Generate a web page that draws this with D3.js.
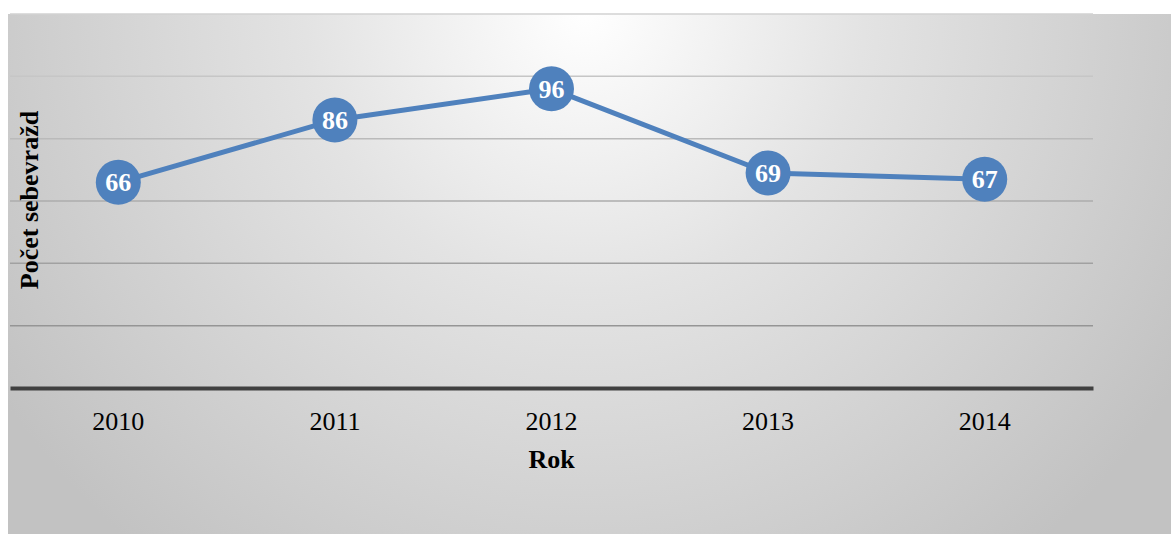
<!DOCTYPE html>
<html>
<head>
<meta charset="utf-8">
<script src="https://cdn.jsdelivr.net/npm/d3@7"></script>
<style>
  html, body { margin: 0; padding: 0; background: #ffffff; }
  svg { display: block; }
</style>
</head>
<body>
<svg id="chart" width="1171" height="534"></svg>
<script>
// Počet sebevražd podle roku
const years = ["2010", "2011", "2012", "2013", "2014"];
const suicides = [66, 86, 96, 69, 67];
const yTicks = [0, 20, 40, 60, 80, 100, 120];

const svg = d3.select("#chart");
const W = 1171, H = 534;
const plot = { left: 10, right: 1093, top: 14, bottom: 388 };
const serif = "'Liberation Serif', 'Times New Roman', serif";

// background: soft radial gradient, lightest at the top centre
const defs = svg.append("defs");
const grad = defs.append("radialGradient")
  .attr("id", "bg")
  .attr("gradientUnits", "userSpaceOnUse")
  .attr("cx", 585).attr("cy", 10).attr("r", 700)
  .attr("fx", 585).attr("fy", 10);
grad.append("stop").attr("offset", "0%").attr("stop-color", "#ffffff");
grad.append("stop").attr("offset", "40%").attr("stop-color", "#e3e3e3");
grad.append("stop").attr("offset", "100%").attr("stop-color", "#c2c2c2");

svg.append("rect")
  .attr("x", 8).attr("y", 14)
  .attr("width", W - 8).attr("height", H - 14)
  .attr("fill", "url(#bg)");

const x = d3.scaleBand().domain(years).range([plot.left, plot.right]);
const y = d3.scaleLinear().domain([0, 120]).range([plot.bottom, plot.top]);

// horizontal gridlines
const gridColor = d3.scaleLinear().domain([120, 20]).range(["#d2d2d2", "#959595"]);
svg.append("g")
  .selectAll("line")
  .data(yTicks.filter(t => t > 0))
  .join("line")
  .attr("x1", plot.left).attr("x2", plot.right)
  .attr("y1", d => y(d)).attr("y2", d => y(d))
  .attr("stroke", d => gridColor(d))
  .attr("stroke-width", 1.5);

// category axis
const xAxis = svg.append("g")
  .attr("transform", `translate(0,${y(0)})`)
  .call(d3.axisBottom(x).tickSize(0));
xAxis.select(".domain")
  .attr("stroke", "#404040")
  .attr("stroke-width", 4);
xAxis.selectAll("text")
  .attr("y", 42)
  .attr("dy", null)
  .attr("font-family", serif)
  .attr("font-size", 26)
  .attr("fill", "#000");

// axis titles
svg.append("text")
  .attr("x", (plot.left + plot.right) / 2)
  .attr("y", 468)
  .attr("text-anchor", "middle")
  .attr("font-family", serif)
  .attr("font-weight", "bold")
  .attr("font-size", 26)
  .attr("fill", "#000")
  .text("Rok");

svg.append("text")
  .attr("transform", "translate(38,200) rotate(-90)")
  .attr("text-anchor", "middle")
  .attr("font-family", serif)
  .attr("font-weight", "bold")
  .attr("font-size", 26)
  .attr("fill", "#000")
  .text("Počet sebevražd");

// series line
const pts = years.map((yr, i) => ({ yr, v: suicides[i] }));
const cx = d => x(d.yr) + x.bandwidth() / 2;

svg.append("path")
  .datum(pts)
  .attr("fill", "none")
  .attr("stroke", "#4f81bd")
  .attr("stroke-width", 5)
  .attr("stroke-linejoin", "round")
  .attr("d", d3.line().x(cx).y(d => y(d.v)));

// markers with value labels
const mk = svg.append("g").selectAll("g").data(pts).join("g")
  .attr("transform", d => `translate(${cx(d)},${y(d.v)})`);
mk.append("circle")
  .attr("r", 22.5)
  .attr("fill", "#4f81bd");
mk.append("text")
  .attr("text-anchor", "middle")
  .attr("dy", "0.35em")
  .attr("font-family", serif)
  .attr("font-weight", "bold")
  .attr("font-size", 26)
  .attr("fill", "#ffffff")
  .text(d => d.v);
</script>
</body>
</html>
